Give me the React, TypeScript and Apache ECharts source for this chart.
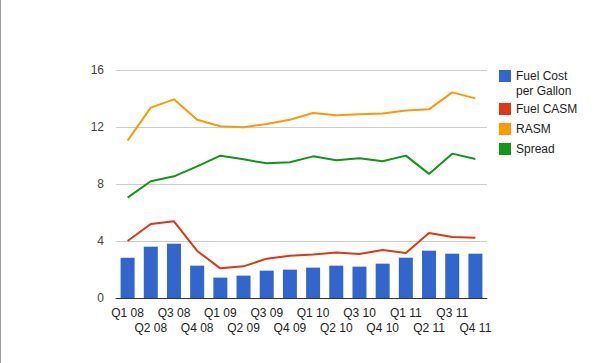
import React, { useEffect, useRef } from "react";
import * as echarts from "echarts";

const categories = ["Q1 08", "Q2 08", "Q3 08", "Q4 08", "Q1 09", "Q2 09", "Q3 09", "Q4 09", "Q1 10", "Q2 10", "Q3 10", "Q4 10", "Q1 11", "Q2 11", "Q3 11", "Q4 11"];
const fuelCostPerGallon = [2.83, 3.6, 3.81, 2.27, 1.43, 1.57, 1.92, 1.99, 2.13, 2.27, 2.2, 2.41, 2.83, 3.32, 3.11, 3.11];
const fuelCasm = [4.0, 5.19, 5.38, 3.3, 2.08, 2.22, 2.76, 2.97, 3.06, 3.2, 3.09, 3.37, 3.16, 4.56, 4.28, 4.23];
const rasm = [11.04, 13.36, 13.94, 12.51, 12.05, 11.98, 12.21, 12.51, 12.98, 12.82, 12.89, 12.94, 13.15, 13.24, 14.43, 14.01];
const spread = [7.04, 8.19, 8.54, 9.24, 9.99, 9.73, 9.45, 9.52, 9.94, 9.66, 9.8, 9.59, 9.99, 8.71, 10.13, 9.75];

const FONT = "'Liberation Sans', Arial, sans-serif";

export default function App() {
  const ref = useRef<HTMLDivElement>(null);
  useEffect(() => {
    if (!ref.current) return;
    const chart = echarts.init(ref.current, null, { renderer: "svg" });
    chart.setOption({
      animation: false,
      backgroundColor: "#ffffff",
      textStyle: { fontFamily: FONT },
      grid: { left: 116, right: 113, top: 70, bottom: 65, containLabel: false },
      legend: [
        {
          orient: "vertical",
          left: 499,
          top: 69,
          padding: 0,
          itemWidth: 12,
          itemHeight: 12,
          icon: "rect",
          data: ["Fuel Cost per Gallon"],
          formatter: () => "Fuel Cost",
          textStyle: { fontFamily: FONT, fontSize: 12, color: "#222", lineHeight: 14 },
          selectedMode: false,
        },
        {
          orient: "vertical",
          left: 499,
          top: 102,
          padding: 0,
          itemWidth: 12,
          itemHeight: 12,
          itemGap: 6,
          icon: "rect",
          data: ["Fuel CASM", "RASM", "Spread"],
          textStyle: { fontFamily: FONT, fontSize: 12, color: "#222", lineHeight: 14 },
          selectedMode: false,
        },
      ],
      graphic: [
        {
          type: "text",
          left: 516,
          top: 85,
          style: { text: "per Gallon", font: `12px ${FONT}`, fill: "#222" },
        },
        {
          type: "line",
          shape: { x1: 0.5, y1: 0, x2: 0.5, y2: 363 },
          style: { stroke: "#999", lineWidth: 1 },
        },
      ],
      xAxis: {
        type: "category",
        data: categories,
        axisTick: { show: false },
        axisLine: { lineStyle: { color: "#333", width: 1 } },
        axisLabel: {
          interval: 0,
          margin: 7,
          fontSize: 12,
          lineHeight: 15,
          color: "#222",
          fontFamily: FONT,
          formatter: (v: string, i: number) => (i % 2 ? "\n" + v : v),
        },
      },
      yAxis: {
        type: "value",
        min: 0,
        max: 16,
        interval: 4,
        axisLine: { show: false },
        axisTick: { show: false },
        splitLine: { lineStyle: { color: "#cccccc", width: 1 } },
        axisLabel: { margin: 12, fontSize: 12, color: "#444", fontFamily: FONT },
      },
      series: [
        {
          name: "Fuel Cost per Gallon",
          type: "bar",
          data: fuelCostPerGallon,
          barWidth: 14,
          itemStyle: { color: "#3366cc" },
        },
        {
          name: "Fuel CASM",
          type: "line",
          data: fuelCasm,
          symbol: "none",
          lineStyle: { width: 2, color: "#dc3912" },
          itemStyle: { color: "#dc3912" },
        },
        {
          name: "RASM",
          type: "line",
          data: rasm,
          symbol: "none",
          lineStyle: { width: 2, color: "#ff9900" },
          itemStyle: { color: "#ff9900" },
        },
        {
          name: "Spread",
          type: "line",
          data: spread,
          symbol: "none",
          lineStyle: { width: 2, color: "#109618" },
          itemStyle: { color: "#109618" },
        },
      ],
    });
    return () => chart.dispose();
  }, []);
  return (
    <div style={{ position: "fixed", left: 0, top: 0, width: 600, height: 363, background: "#fff" }}>
      <div ref={ref} style={{ width: 600, height: 363 }} />
    </div>
  );
}
